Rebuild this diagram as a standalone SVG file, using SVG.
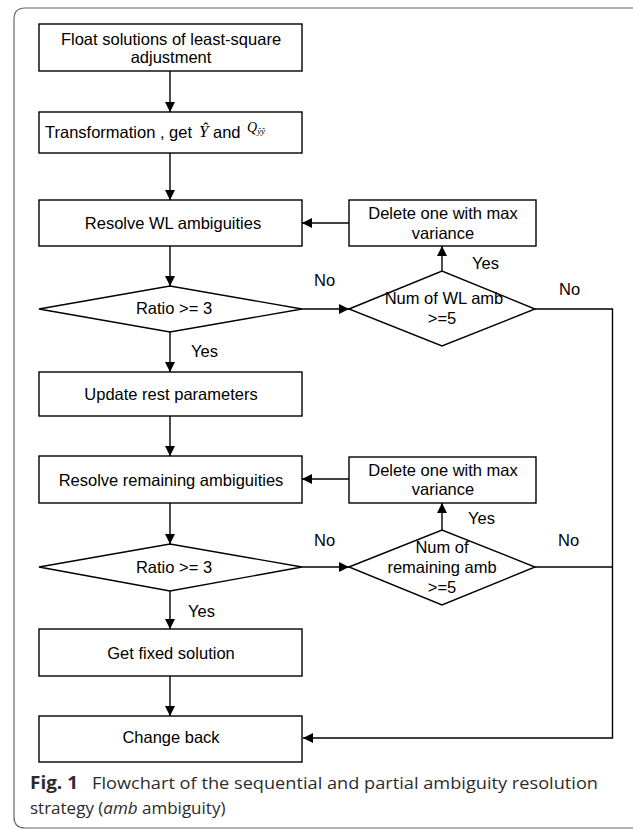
<svg xmlns="http://www.w3.org/2000/svg" width="633" height="830" viewBox="0 0 633 830">
<defs>
<style>
.box{fill:#fff;stroke:#000;stroke-width:1.4}
.t{font-family:"Liberation Sans",Arial,sans-serif;font-size:16.5px;fill:#000;text-anchor:middle}
.lbl{font-family:"Liberation Sans",Arial,sans-serif;font-size:16.5px;fill:#000}
.c{fill:none;stroke:#000;stroke-width:1.4}
.cap{font-family:"Open Sans","Noto Sans",sans-serif;font-size:17px;fill:#2b2b2b}
</style>
<marker id="ah" markerWidth="11" markerHeight="11" refX="10" refY="5" orient="auto" markerUnits="userSpaceOnUse">
<path d="M0,0 L10,5 L0,10 Z" fill="#000"/>
</marker>
</defs>
<rect width="633" height="830" fill="#fff"/>
<path d="M640,8 H25 Q14,8 14,19 V817 Q14,828 25,828 H640" fill="none" stroke="#666" stroke-width="1.2"/>

<g id="n1"><rect class="box" x="39" y="24" width="263" height="47"/>
<text class="t" x="171" y="45">Float solutions of least-square</text>
<text class="t" x="171" y="63">adjustment</text></g>

<g id="n2"><rect class="box" x="39" y="112" width="263" height="41"/>
<text class="lbl" x="45" y="138">Transformation , get</text>
<text x="199" y="137" font-family="Liberation Serif,serif" font-style="italic" font-size="17">Ŷ</text>
<text class="lbl" x="213" y="138">and</text>
<text x="247" y="132" font-family="Liberation Serif,serif" font-style="italic" font-size="14">Q<tspan font-size="9" dy="2">ŷŷ</tspan></text></g>

<g id="n3"><rect class="box" x="39" y="200" width="263" height="46"/>
<text class="t" x="173" y="229">Resolve WL ambiguities</text></g>

<g id="d1"><polygon class="box" points="39,309 170,286 302,309 170,332"/>
<text class="t" x="174" y="314">Ratio &gt;= 3</text></g>

<g id="r1"><rect class="box" x="349" y="200" width="187" height="46"/>
<text class="t" x="443" y="219">Delete one with max</text>
<text class="t" x="443" y="239">variance</text></g>

<g id="d2"><polygon class="box" points="349,309 442,271 535,309 442,346"/>
<text class="t" x="444" y="304">Num of WL amb</text>
<text class="t" x="442" y="324">&gt;=5</text></g>

<g id="n4"><rect class="box" x="39" y="372" width="263" height="44"/>
<text class="t" x="171" y="400">Update rest parameters</text></g>

<g id="n5"><rect class="box" x="39" y="456" width="263" height="47"/>
<text class="t" x="171" y="486">Resolve remaining ambiguities</text></g>

<g id="d3"><polygon class="box" points="39,567 170,544 302,567 170,591"/>
<text class="t" x="174" y="573">Ratio &gt;= 3</text></g>

<g id="r2"><rect class="box" x="349" y="457" width="187" height="46"/>
<text class="t" x="443" y="476">Delete one with max</text>
<text class="t" x="443" y="495">variance</text></g>

<g id="d4"><polygon class="box" points="349,567 442,530 535,567 442,605"/>
<text class="t" x="442" y="553">Num of</text>
<text class="t" x="442" y="573">remaining amb</text>
<text class="t" x="442" y="593">&gt;=5</text></g>

<g id="n6"><rect class="box" x="39" y="629" width="263" height="47"/>
<text class="t" x="171" y="659">Get fixed solution</text></g>

<g id="n7"><rect class="box" x="39" y="716" width="263" height="46"/>
<text class="t" x="171" y="743">Change back</text></g>

<g id="connectors">
<line class="c" x1="170" y1="71" x2="170" y2="112" marker-end="url(#ah)"/>
<line class="c" x1="170" y1="153" x2="170" y2="200" marker-end="url(#ah)"/>
<line class="c" x1="170" y1="246" x2="170" y2="286" marker-end="url(#ah)"/>
<line class="c" x1="170" y1="332" x2="170" y2="372" marker-end="url(#ah)"/>
<line class="c" x1="170" y1="416" x2="170" y2="456" marker-end="url(#ah)"/>
<line class="c" x1="170" y1="503" x2="170" y2="544" marker-end="url(#ah)"/>
<line class="c" x1="170" y1="591" x2="170" y2="629" marker-end="url(#ah)"/>
<line class="c" x1="170" y1="676" x2="170" y2="716" marker-end="url(#ah)"/>
<line class="c" x1="302" y1="309" x2="349" y2="309" marker-end="url(#ah)"/>
<line class="c" x1="442" y1="271" x2="442" y2="246" marker-end="url(#ah)"/>
<line class="c" x1="349" y1="223" x2="302" y2="223" marker-end="url(#ah)"/>
<polyline class="c" points="535,309 612.5,309 612.5,738 303,738" marker-end="url(#ah)"/>
<line class="c" x1="302" y1="567" x2="349" y2="567" marker-end="url(#ah)"/>
<line class="c" x1="442" y1="530" x2="442" y2="503" marker-end="url(#ah)"/>
<line class="c" x1="349" y1="479" x2="302" y2="479" marker-end="url(#ah)"/>
<line class="c" x1="535" y1="567" x2="612.5" y2="567"/>
<text class="lbl" x="191" y="357">Yes</text>
<text class="lbl" x="472" y="269">Yes</text>
<text class="lbl" x="314" y="286">No</text>
<text class="lbl" x="559" y="295">No</text>
<text class="lbl" x="188" y="617">Yes</text>
<text class="lbl" x="468" y="524">Yes</text>
<text class="lbl" x="314" y="546">No</text>
<text class="lbl" x="558" y="546">No</text>
</g>

<g id="caption">
<text class="cap" x="30" y="789" font-weight="bold" textLength="48" lengthAdjust="spacingAndGlyphs">Fig. 1</text>
<text class="cap" x="92" y="789" textLength="506" lengthAdjust="spacingAndGlyphs">Flowchart of the sequential and partial ambiguity resolution</text>
<text class="cap" x="30" y="814">strategy (<tspan font-style="italic">amb</tspan> ambiguity)</text>
</g>
</svg>
